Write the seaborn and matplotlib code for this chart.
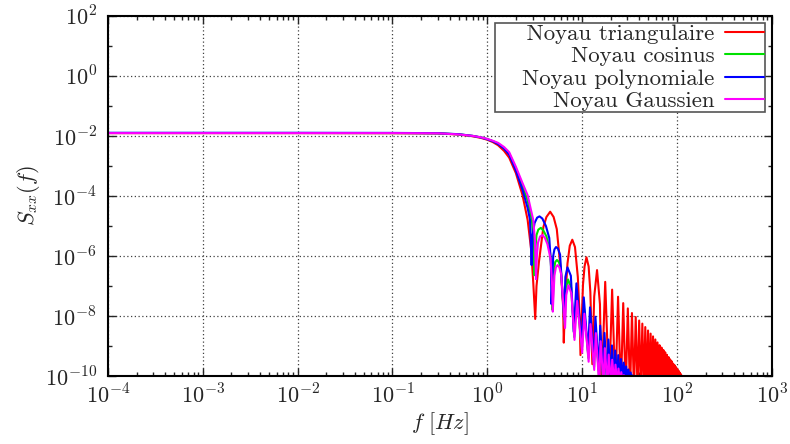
import numpy as np
import pandas as pd
import seaborn as sns
import matplotlib.pyplot as plt
from matplotlib.ticker import FixedLocator, FuncFormatter, LogLocator, NullFormatter

# Noyau triangulaire : lobe principal puis lobes secondaires (maxima / zeros)
tri_f = [1e-4, 1e-3, 1e-2, 0.1, 0.3, 0.5, 0.7, 0.85, 1.0, 1.15, 1.3, 1.5, 1.7, 2.0, 2.35, 2.66, 2.9, 3.05, 3.2,
         3.3, 3.5, 3.9, 4.2, 4.6, 5.0, 5.4, 6.0, 6.3, 6.4,
         6.6, 7.0, 7.4, 7.87, 8.4, 9.0, 9.4, 9.6,
         10.2, 10.6, 11.1, 11.7, 12.2, 12.8,
         13.4, 14.35, 15.4, 16.0,
         17.5, 19.2, 20.7, 22.4, 23.9, 25.6, 27.1, 28.8, 30.3, 32.0, 33.5, 35.2,
         36.7, 38.4, 39.9, 41.6, 43.1, 44.8, 46.3, 48.0, 49.5, 51.2, 52.7, 54.4,
         55.9, 57.6, 59.1, 60.8, 62.3, 64.0, 65.5, 67.2, 68.7, 70.4, 71.9, 73.6,
         75.1, 76.8, 78.3, 80.0, 81.5, 83.2, 84.7, 86.4, 87.9, 89.6, 91.1, 92.8,
         94.3, 96.0, 97.5, 99.2, 100.7, 102.4, 103.9, 105.6, 107.1, 108.8, 110.3, 112.0,
         113.5, 115.2]
tri_s = [0.0125, 0.0125, 0.0125, 0.0124, 0.0122, 0.0112, 0.0098, 0.0087, 0.0075, 0.0062, 0.0049, 0.0032, 0.0019,
         5.8e-4, 1.07e-4, 1.6e-5, 1.6e-6, 1.3e-7, 8e-9,
         1.0e-7, 6.3e-7, 9.3e-6, 2.0e-5, 3.0e-5, 2.0e-5, 7.9e-6, 2.5e-7, 2.0e-8, 1.3e-9,
         3.0e-8, 5.6e-7, 2.2e-6, 3.5e-6, 2.0e-6, 2.0e-7, 1.0e-8, 5e-10,
         1.1e-7, 4.5e-7, 9.1e-7, 4.5e-7, 6.3e-8, 2.5e-10,
         4.5e-8, 3.4e-7, 2.5e-8, 3e-11,
         1.38e-7, 3e-11, 7.6e-8, 3e-11, 4.4e-8, 3e-11, 2.7e-8, 3e-11, 1.8e-8, 3e-11, 1.26e-8, 3e-11,
         9.3e-9, 3e-11, 7.1e-9, 3e-11, 5.6e-9, 3e-11, 4.3e-9, 3e-11, 3.3e-9, 3e-11, 2.6e-9, 3e-11,
         2.1e-9, 3e-11, 1.66e-9, 3e-11, 1.32e-9, 3e-11, 1.07e-9, 3e-11, 8.9e-10, 3e-11, 7.4e-10, 3e-11,
         6.2e-10, 3e-11, 5.1e-10, 3e-11, 4.3e-10, 3e-11, 3.6e-10, 3e-11, 3.1e-10, 3e-11, 2.6e-10, 3e-11,
         2.3e-10, 3e-11, 2.0e-10, 3e-11, 1.74e-10, 3e-11, 1.5e-10, 3e-11, 1.3e-10, 3e-11, 1.15e-10, 3e-11,
         1.0e-10, 3e-11]

# Noyau cosinus
cos_f = [1e-4, 1e-3, 1e-2, 0.1, 0.3, 0.5, 0.7, 0.85, 1.0, 1.15, 1.3, 1.5, 1.7, 2.0, 2.35, 2.66, 2.95, 3.05, 3.13,
         3.2, 3.3, 3.45, 3.67, 3.9, 4.2, 4.6, 4.8, 4.87,
         5.05, 5.2, 5.42, 5.68, 5.95, 6.55,
         6.75, 7.1, 7.65, 8.25,
         8.75, 9.95, 10.45, 11.65, 12.15, 13.35, 13.85, 15.05, 15.55, 16.75, 17.25, 18.45,
         18.95, 20.15, 20.65, 21.85, 22.35, 23.55, 24.05, 25.25, 25.75, 26.95, 27.45, 28.65,
         29.15, 30.35, 30.85, 32.05]
cos_s = [0.0126, 0.0126, 0.0126, 0.0125, 0.0123, 0.0114, 0.0101, 0.0090, 0.0079, 0.0067, 0.0056, 0.0040, 0.0026,
         8.3e-4, 2.2e-4, 7.0e-5, 1.6e-5, 4.0e-6, 2.3e-7,
         1.5e-6, 5.0e-6, 7.6e-6, 8.7e-6, 7.1e-6, 4.5e-6, 1.26e-6, 1.5e-7, 1.6e-8,
         3.5e-7, 6.3e-7, 7.4e-7, 6.3e-7, 4.0e-7, 5e-9,
         7.9e-8, 1.66e-7, 8.9e-8, 2e-9,
         5.0e-8, 8e-10, 1.82e-8, 4e-10, 8.3e-9, 2e-10, 4.2e-9, 1e-10, 2.2e-9, 5e-11, 1.26e-9, 5e-11,
         7.6e-10, 5e-11, 4.8e-10, 5e-11, 3.3e-10, 5e-11, 2.4e-10, 5e-11, 1.82e-10, 5e-11, 1.41e-10, 5e-11,
         1.12e-10, 5e-11, 8.9e-11, 5e-11]

# Noyau polynomiale
poly_f = [1e-4, 1e-3, 1e-2, 0.1, 0.3, 0.5, 0.7, 0.85, 1.0, 1.15, 1.3, 1.5, 1.7, 2.0, 2.35, 2.66, 2.82, 2.93,
          3.0, 3.15, 3.35, 3.55, 3.8, 4.15, 4.5, 4.68, 4.75,
          4.95, 5.1, 5.3, 5.55, 5.85, 6.45,
          6.65, 7.0, 7.6, 8.15,
          8.7, 9.85, 10.4, 11.55, 12.1, 13.25, 13.8, 14.95, 15.5, 16.65, 17.2, 18.35,
          18.9, 20.05, 20.6, 21.75, 22.3, 23.45, 24.0, 25.15, 25.7, 26.85, 27.4, 28.55,
          29.1, 30.25, 30.8, 31.95, 32.5, 33.65, 34.2, 35.35]
poly_s = [0.0128, 0.0128, 0.0128, 0.0127, 0.0124, 0.0115, 0.0101, 0.0090, 0.0078, 0.0066, 0.0054, 0.0038, 0.0024,
          7.1e-4, 1.6e-4, 4.0e-5, 1.6e-5, 5e-7,
          5.0e-6, 1.26e-5, 1.9e-5, 2.1e-5, 1.78e-5, 1.0e-5, 4.0e-6, 6.0e-7, 2.5e-8,
          1.0e-6, 1.66e-6, 2.0e-6, 1.78e-6, 1.12e-6, 8e-9,
          2.0e-7, 4.2e-7, 2.2e-7, 3e-9,
          1.23e-7, 1.3e-9, 4.2e-8, 6e-10, 1.95e-8, 3e-10, 9.5e-9, 1.6e-10, 4.8e-9, 8e-11, 2.75e-9, 5e-11,
          1.66e-9, 5e-11, 1.05e-9, 5e-11, 7.1e-10, 5e-11, 5.0e-10, 5e-11, 3.7e-10, 5e-11, 2.8e-10, 5e-11,
          2.1e-10, 5e-11, 1.66e-10, 5e-11, 1.32e-10, 5e-11, 1.05e-10, 5e-11]

# Noyau Gaussien
gauss_f = [1e-4, 1e-3, 1e-2, 0.1, 0.3, 0.5, 0.7, 0.85, 1.0, 1.15, 1.3, 1.5, 1.7, 2.0, 2.35, 2.66, 3.05, 3.18, 3.26,
           3.33, 3.42, 3.6, 3.81, 4.05, 4.3, 4.65, 4.83, 4.9,
           5.1, 5.28, 5.5, 5.75, 6.0, 6.6,
           6.8, 7.15, 7.7, 8.3,
           8.85, 10.0, 10.55, 11.7, 12.25, 13.4, 13.95, 15.1, 15.65, 16.8, 17.35, 18.5,
           19.05, 20.2, 20.75, 21.9, 22.45, 23.6, 24.15, 25.3, 25.85, 27.0, 27.55, 28.7,
           29.25, 30.4]
gauss_s = [0.0125, 0.0125, 0.0125, 0.0125, 0.0123, 0.0113, 0.0101, 0.0091, 0.0080, 0.0069, 0.0059, 0.0043, 0.0029,
           9.5e-4, 2.7e-4, 1.07e-4, 1.6e-5, 3.2e-6, 1.7e-7,
           1.0e-6, 2.8e-6, 4.5e-6, 5.0e-6, 4.0e-6, 2.5e-6, 7.9e-7, 1.0e-7, 1.4e-8,
           2.2e-7, 4.2e-7, 5.0e-7, 4.2e-7, 2.5e-7, 4e-9,
           5.0e-8, 1.07e-7, 5.6e-8, 1.6e-9,
           3.2e-8, 6e-10, 1.2e-8, 3e-10, 5.4e-9, 1.6e-10, 2.7e-9, 5e-11, 1.45e-9, 5e-11, 8.5e-10, 5e-11,
           5.2e-10, 5e-11, 3.5e-10, 5e-11, 2.4e-10, 5e-11, 1.78e-10, 5e-11, 1.35e-10, 5e-11, 1.07e-10, 5e-11,
           8.5e-11, 5e-11]

labels = ['Noyau triangulaire', 'Noyau cosinus', 'Noyau polynomiale', 'Noyau Gaussien']
colors = ['#ff0000', '#00e000', '#0000ff', '#ff00ff']

# tableau long pour seaborn
curves = [(tri_f, tri_s), (cos_f, cos_s), (poly_f, poly_s), (gauss_f, gauss_s)]
frames = []
for lab, (f, s) in zip(labels, curves):
    frames.append(pd.DataFrame({'f': f, 'S': s, 'noyau': lab}))
df = pd.concat(frames, ignore_index=True)

sns.set_style('ticks')
plt.rcParams['font.family'] = ['cmr10', 'DejaVu Serif']
plt.rcParams['mathtext.fontset'] = 'cm'
plt.rcParams['axes.formatter.use_mathtext'] = True

fig, ax = plt.subplots(figsize=(7.9, 4.44), dpi=100)
fig.subplots_adjust(left=0.1367, right=0.977, top=0.964, bottom=0.153)

sns.lineplot(data=df, x='f', y='S', hue='noyau', hue_order=labels, palette=colors,
             estimator=None, sort=False, lw=1.5, ax=ax)

ax.set_xscale('log')
ax.set_yscale('log')
ax.set_xlim(1e-4, 1e3)
ax.set_ylim(1e-10, 1e2)

ax.xaxis.set_major_locator(FixedLocator([10.0 ** k for k in range(-4, 4)]))
ax.xaxis.set_minor_locator(LogLocator(base=10, subs=np.arange(2, 10), numticks=20))
ax.yaxis.set_major_locator(FixedLocator([10.0 ** k for k in range(-10, 3, 2)]))
ax.yaxis.set_minor_locator(FixedLocator([10.0 ** k for k in range(-9, 2, 2)]))
fmt = FuncFormatter(lambda v, p: r'$10^{%d}$' % int(round(np.log10(v))))
ax.xaxis.set_major_formatter(fmt)
ax.yaxis.set_major_formatter(fmt)
ax.xaxis.set_minor_formatter(NullFormatter())
ax.yaxis.set_minor_formatter(NullFormatter())

ax.tick_params(which='both', direction='in', top=True, right=True, width=1, labelsize=16)
ax.tick_params(which='major', length=6)
ax.tick_params(which='minor', length=3)
ax.tick_params(axis='y', pad=8)
ax.tick_params(axis='x', pad=5)
for sp in ax.spines.values():
    sp.set_linewidth(1.5)
    sp.set_color('black')

ax.grid(True, which='major', ls=(0, (1, 2)), color='0.25', lw=0.9)

ax.set_xlabel(r'$f\ [Hz]$', fontsize=16, labelpad=2)
ax.set_ylabel(r'$S_{xx}(f)$', fontsize=16, labelpad=2)

# markerfirst=False : texte aligné à droite, trait à droite (style gnuplot)
# espaces en tête de la 1re étiquette pour la marge gauche du cadre
handles, _ = ax.get_legend_handles_labels()
leg_labels = ['    ' + labels[0]] + labels[1:]
leg = ax.legend(handles, leg_labels, loc='upper right', markerfirst=False, fontsize=16.5,
                frameon=True, fancybox=False, framealpha=1, edgecolor='#555555',
                borderpad=0.05, labelspacing=0.1, handlelength=1.7, handletextpad=0.45,
                borderaxespad=0.3)
leg.get_frame().set_linewidth(1.2)

plt.savefig('out.png', dpi=100)
